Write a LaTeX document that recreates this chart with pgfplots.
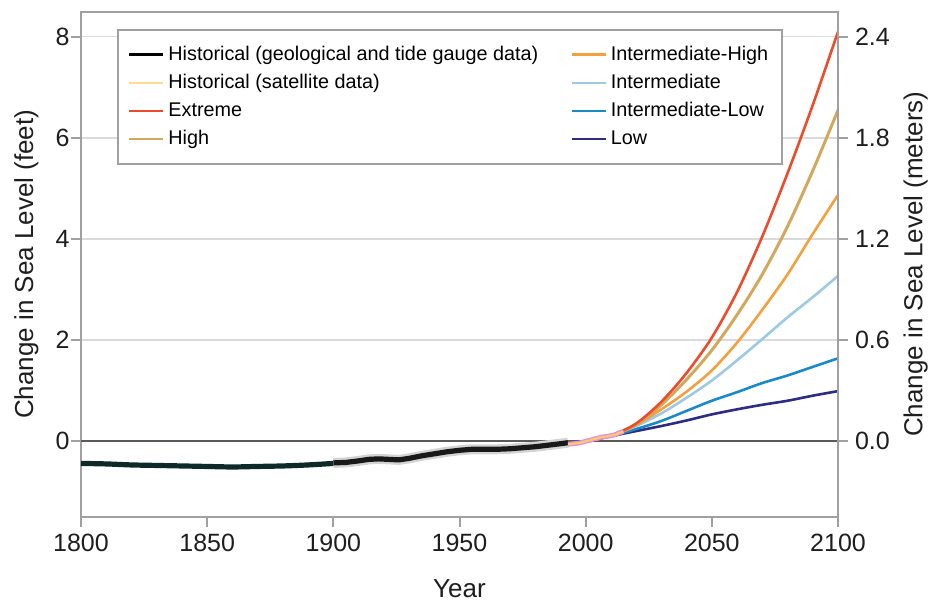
\documentclass[border=0pt]{standalone}
\usepackage{fontspec}
\setmainfont{Liberation Sans}
\usepackage{pgfplots}
\pgfplotsset{compat=1.18}
\definecolor{cExt}{HTML}{EE4B2B}
\definecolor{cHigh}{HTML}{D2A85C}
\definecolor{cIH}{HTML}{F4A03C}
\definecolor{cInt}{HTML}{9DC9E3}
\definecolor{cIL}{HTML}{1A8AC6}
\definecolor{cLow}{HTML}{2E2C82}
\definecolor{cSat}{HTML}{F8CC6A}
\definecolor{cSatL}{HTML}{FCDC90}
\definecolor{cSatB}{HTML}{E58BE0}
\definecolor{cGeo}{HTML}{0E2A28}
\definecolor{cFrame}{HTML}{A0A0A0}
\definecolor{cGrid}{HTML}{DADADA}
\definecolor{cHalo}{HTML}{D4D4D4}
\definecolor{cZero}{HTML}{5A5A5A}
\definecolor{cText}{HTML}{1E1E1E}

\pgfplotstableread{
year ext high ih int il low
2000 0 0 0 0 0 0
2010 0.11 0.11 0.11 0.11 0.10 0.10
2020 0.35 0.33 0.32 0.30 0.24 0.20
2030 0.78 0.72 0.63 0.55 0.40 0.30
2040 1.35 1.22 0.98 0.86 0.60 0.41
2050 2.05 1.80 1.40 1.20 0.80 0.53
2060 2.95 2.50 1.95 1.60 0.97 0.63
2070 4.05 3.30 2.60 2.02 1.15 0.72
2080 5.30 4.25 3.30 2.45 1.30 0.80
2090 6.65 5.35 4.10 2.85 1.47 0.90
2100 8.10 6.55 4.87 3.27 1.64 0.99
}\proj

\begin{document}
\begin{tikzpicture}
\begin{axis}[name=ax, scale only axis, width=378.5pt, height=252.75pt,
  xmin=1800, xmax=2100, ymin=-1.5, ymax=8.5,
  xtick={1800,1850,...,2100}, ytick={0,2,4,6,8},
  axis line style={cFrame, line width=1pt},
  tick style={cFrame, line width=1pt},
  tick align=outside, major tick length=5pt,
  xtick pos=bottom, ytick pos=left,
  ymajorgrids, grid style={cGrid, line width=0.7pt},
  xticklabel style={/pgf/number format/1000 sep={}},
  yticklabel style={inner xsep=0.5pt},
  /pgf/number format/assume math mode=true,
  tick label style={font=\fontsize{12.5}{15}\selectfont, text=cText},
  label style={font=\fontsize{13}{15}\selectfont, text=cText},
  xlabel={Year}, ylabel={Change in Sea Level (feet)},
  xlabel style={yshift=-7pt},
  ylabel style={yshift=4.5pt},
  legend columns=2, legend cell align=left,
  legend style={at={(0.0476,0.965)}, anchor=north west, draw=cFrame, line width=0.8pt,
    fill=white, font=\fontsize{9.9}{11}\selectfont, row sep=1.4pt,
    inner xsep=5pt, inner ysep=6pt,
    /tikz/every even column/.append style={column sep=14pt}},
  legend image code/.code={\draw[line width=1.3pt,#1] (0pt,0pt) -- (17pt,0pt);},
]
\addlegendimage{black}
\addlegendentry{Historical (geological and tide gauge data)}
\addlegendimage{cIH}
\addlegendentry{Intermediate-High}
\addlegendimage{cSatL}
\addlegendentry{Historical (satellite data)}
\addlegendimage{cInt}
\addlegendentry{Intermediate}
\addlegendimage{cExt}
\addlegendentry{Extreme}
\addlegendimage{cIL}
\addlegendentry{Intermediate-Low}
\addlegendimage{cHigh}
\addlegendentry{High}
\addlegendimage{cLow}
\addlegendentry{Low}

\addplot[forget plot, cZero, line width=0.8pt] coordinates {(1800,0) (2100,0)};

% geological
\addplot[forget plot, cGeo, line width=2.6pt, smooth] coordinates {
(1800,-0.44) (1810,-0.45) (1820,-0.47) (1830,-0.48) (1840,-0.49) (1850,-0.50)
(1860,-0.51) (1870,-0.50) (1880,-0.49) (1890,-0.47) (1900,-0.44)};
% tide gauge halo
\addplot[forget plot, cHalo, line width=5pt] coordinates {
(1900,-0.43) (1905,-0.42) (1910,-0.39) (1914,-0.36) (1918,-0.35) (1922,-0.36)
(1926,-0.37) (1930,-0.34) (1935,-0.29) (1940,-0.25) (1945,-0.21) (1950,-0.18)
(1955,-0.16) (1960,-0.16) (1965,-0.16) (1970,-0.15) (1975,-0.13) (1980,-0.11)
(1985,-0.08) (1990,-0.05) (1993,-0.03)};
\addplot[forget plot, black!90, line width=2.6pt] coordinates {
(1900,-0.43) (1905,-0.42) (1910,-0.39) (1914,-0.36) (1918,-0.35) (1922,-0.36)
(1926,-0.37) (1930,-0.34) (1935,-0.29) (1940,-0.25) (1945,-0.21) (1950,-0.18)
(1955,-0.16) (1960,-0.16) (1965,-0.16) (1970,-0.15) (1975,-0.13) (1980,-0.11)
(1985,-0.08) (1990,-0.05) (1993,-0.03)};

% projections
\addplot[forget plot, cLow, line width=1.3pt, smooth] table[x=year, y=low] {\proj};
\addplot[forget plot, cIL, line width=1.3pt, smooth] table[x=year, y=il] {\proj};
\addplot[forget plot, cInt, line width=1.3pt, smooth] table[x=year, y=int] {\proj};
\addplot[forget plot, cIH, line width=1.3pt, smooth] table[x=year, y=ih] {\proj};
\addplot[forget plot, cHigh, line width=1.5pt, smooth] table[x=year, y=high] {\proj};
\addplot[forget plot, cExt, line width=1.3pt, smooth] table[x=year, y=ext] {\proj};

% satellite
\addplot[forget plot, cSatB, line width=2.4pt] coordinates {
(1993,-0.06) (1995,-0.05) (1997,-0.04) (1998,-0.03) (2000,0.0) (2002,0.02) (2003,0.04)
(2005,0.06) (2006,0.08) (2008,0.09) (2009,0.10) (2011,0.12) (2012,0.13) (2013,0.16) (2015,0.19)};
\addplot[forget plot, cSat, line width=1.1pt] coordinates {
(1993,-0.06) (1995,-0.05) (1997,-0.04) (1998,-0.03) (2000,0.0) (2002,0.02) (2003,0.04)
(2005,0.06) (2006,0.08) (2008,0.09) (2009,0.10) (2011,0.12) (2012,0.13) (2013,0.16) (2015,0.19)};
\end{axis}

\begin{axis}[scale only axis, width=378.5pt, height=252.75pt,
  xmin=1800, xmax=2100, ymin=-0.45, ymax=2.55,
  axis x line=none, axis y line*=right,
  ytick={0,0.6,1.2,1.8,2.4},
  axis line style={cFrame, line width=1pt},
  tick style={cFrame, line width=1pt},
  tick align=outside, major tick length=5pt,
  /pgf/number format/assume math mode=true,
  yticklabel style={/pgf/number format/.cd, fixed, fixed zerofill, precision=1},
  tick label style={font=\fontsize{12.5}{15}\selectfont, text=cText},
  label style={font=\fontsize{13}{15}\selectfont, text=cText},
  ylabel={Change in Sea Level (meters)},
]
\end{axis}
\pgfresetboundingbox
\path[use as bounding box] ([xshift=-40.5pt,yshift=-41.5pt]ax.south west) rectangle ([xshift=45.5pt,yshift=5.75pt]ax.north east);
\end{tikzpicture}
\end{document}
